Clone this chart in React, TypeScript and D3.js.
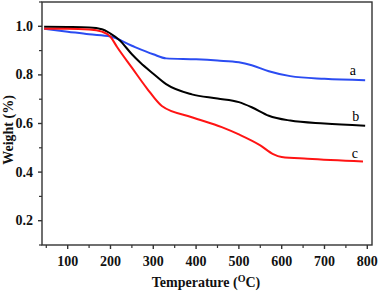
import React from "react";
import * as d3 from "d3";

// TGA curves (temperature in °C, weight fraction)
const tempA = [45, 100, 150, 200, 250, 300, 330, 400, 450, 500, 530, 570, 620, 700, 795];
const weightA = [0.99, 0.978, 0.967, 0.958, 0.92, 0.885, 0.868, 0.864, 0.859, 0.852, 0.84, 0.815, 0.795, 0.784, 0.778];

const tempB = [45, 100, 150, 180, 200, 220, 250, 270, 300, 330, 390, 450, 500, 530, 570, 620, 700, 795];
const weightB = [0.998, 0.997, 0.995, 0.988, 0.97, 0.945, 0.885, 0.85, 0.805, 0.762, 0.72, 0.703, 0.688, 0.667, 0.632, 0.612, 0.6, 0.591];

const tempC = [45, 100, 150, 180, 200, 215, 250, 285, 320, 390, 460, 500, 550, 580, 600, 660, 790];
const weightC = [0.99, 0.99, 0.987, 0.978, 0.957, 0.916, 0.83, 0.745, 0.672, 0.626, 0.585, 0.555, 0.51, 0.474, 0.462, 0.455, 0.444];

const xTicks = [100, 200, 300, 400, 500, 600, 700, 800];
const xMinor = [50, 150, 250, 350, 450, 550, 650, 750];
const yTicks = [0.2, 0.4, 0.6, 0.8, 1.0];
const yMinor = [0.1, 0.3, 0.5, 0.7, 0.9, 1.1];

const series = [
  { name: "a", temp: tempA, weight: weightA, color: "#2b4cf2", labelT: 766, labelW: 0.82 },
  { name: "b", temp: tempB, weight: weightB, color: "#000000", labelT: 773, labelW: 0.628 },
  { name: "c", temp: tempC, weight: weightC, color: "#ff1414", labelT: 771, labelW: 0.477 },
];

const left = 42;
const right = 372;
const top = 2;
const bottom = 245;
const axisColor = "#333";
const font = "'Liberation Serif', 'Times New Roman', serif";

export default function App() {
  const x = d3.scaleLinear().domain([40, 811]).range([left, right]);
  const y = d3.scaleLinear().domain([0.1, 1.1]).range([bottom, top]);

  const makeLine = (temp: number[], weight: number[]) =>
    d3
      .line<number>()
      .x((d, i) => x(temp[i]))
      .y((d) => y(d))
      .curve(d3.curveMonotoneX)(weight) || "";

  return (
    <div style={{ position: "fixed", left: 0, top: 0 }}>
      <svg width={380} height={292} style={{ display: "block", background: "#fff" }}>
        {series.map((s) => (
          <path key={s.name} d={makeLine(s.temp, s.weight)} fill="none" stroke={s.color} strokeWidth={2} />
        ))}
        {series.map((s) => (
          <text
            key={"l" + s.name}
            x={x(s.labelT)}
            y={y(s.labelW)}
            textAnchor="middle"
            dominantBaseline="central"
            fontFamily={font}
            fontSize={14}
            fill="#000"
          >
            {s.name}
          </text>
        ))}

        {/* frame */}
        <rect x={left} y={top} width={right - left} height={bottom - top} fill="none" stroke={axisColor} strokeWidth={1.4} />

        {/* x ticks */}
        {xTicks.map((t) => (
          <g key={"x" + t}>
            <line x1={x(t)} x2={x(t)} y1={bottom} y2={bottom + 4} stroke={axisColor} strokeWidth={1.4} />
            <text
              x={x(t)}
              y={bottom + 21}
              textAnchor="middle"
              fontFamily={font}
              fontWeight="bold"
              fontSize={14}
              fill="#111"
            >
              {t}
            </text>
          </g>
        ))}
        {xMinor.map((t) => (
          <line key={"xm" + t} x1={x(t)} x2={x(t)} y1={bottom} y2={bottom + 3} stroke={axisColor} strokeWidth={1.2} />
        ))}

        {/* y ticks */}
        {yTicks.map((t) => (
          <g key={"y" + t}>
            <line x1={left - 4} x2={left} y1={y(t)} y2={y(t)} stroke={axisColor} strokeWidth={1.4} />
            <text
              x={left - 9}
              y={y(t)}
              textAnchor="end"
              dominantBaseline="central"
              fontFamily={font}
              fontWeight="bold"
              fontSize={14}
              fill="#111"
            >
              {t.toFixed(1)}
            </text>
          </g>
        ))}
        {yMinor.map((t) => (
          <line key={"ym" + t} x1={left - 3} x2={left} y1={y(t)} y2={y(t)} stroke={axisColor} strokeWidth={1.2} />
        ))}

        {/* axis titles */}
        <text
          x={206}
          y={287}
          textAnchor="middle"
          fontFamily={font}
          fontWeight="bold"
          fontSize={14}
          fill="#111"
        >
          Temperature (<tspan dy={-5} fontSize={10}>O</tspan>
          <tspan dy={5}>C)</tspan>
        </text>
        <text
          transform={`translate(8,130) rotate(-90)`}
          textAnchor="middle"
          dominantBaseline="central"
          fontFamily={font}
          fontWeight="bold"
          fontSize={14}
          fill="#111"
        >
          Weight (%)
        </text>
      </svg>
    </div>
  );
}
